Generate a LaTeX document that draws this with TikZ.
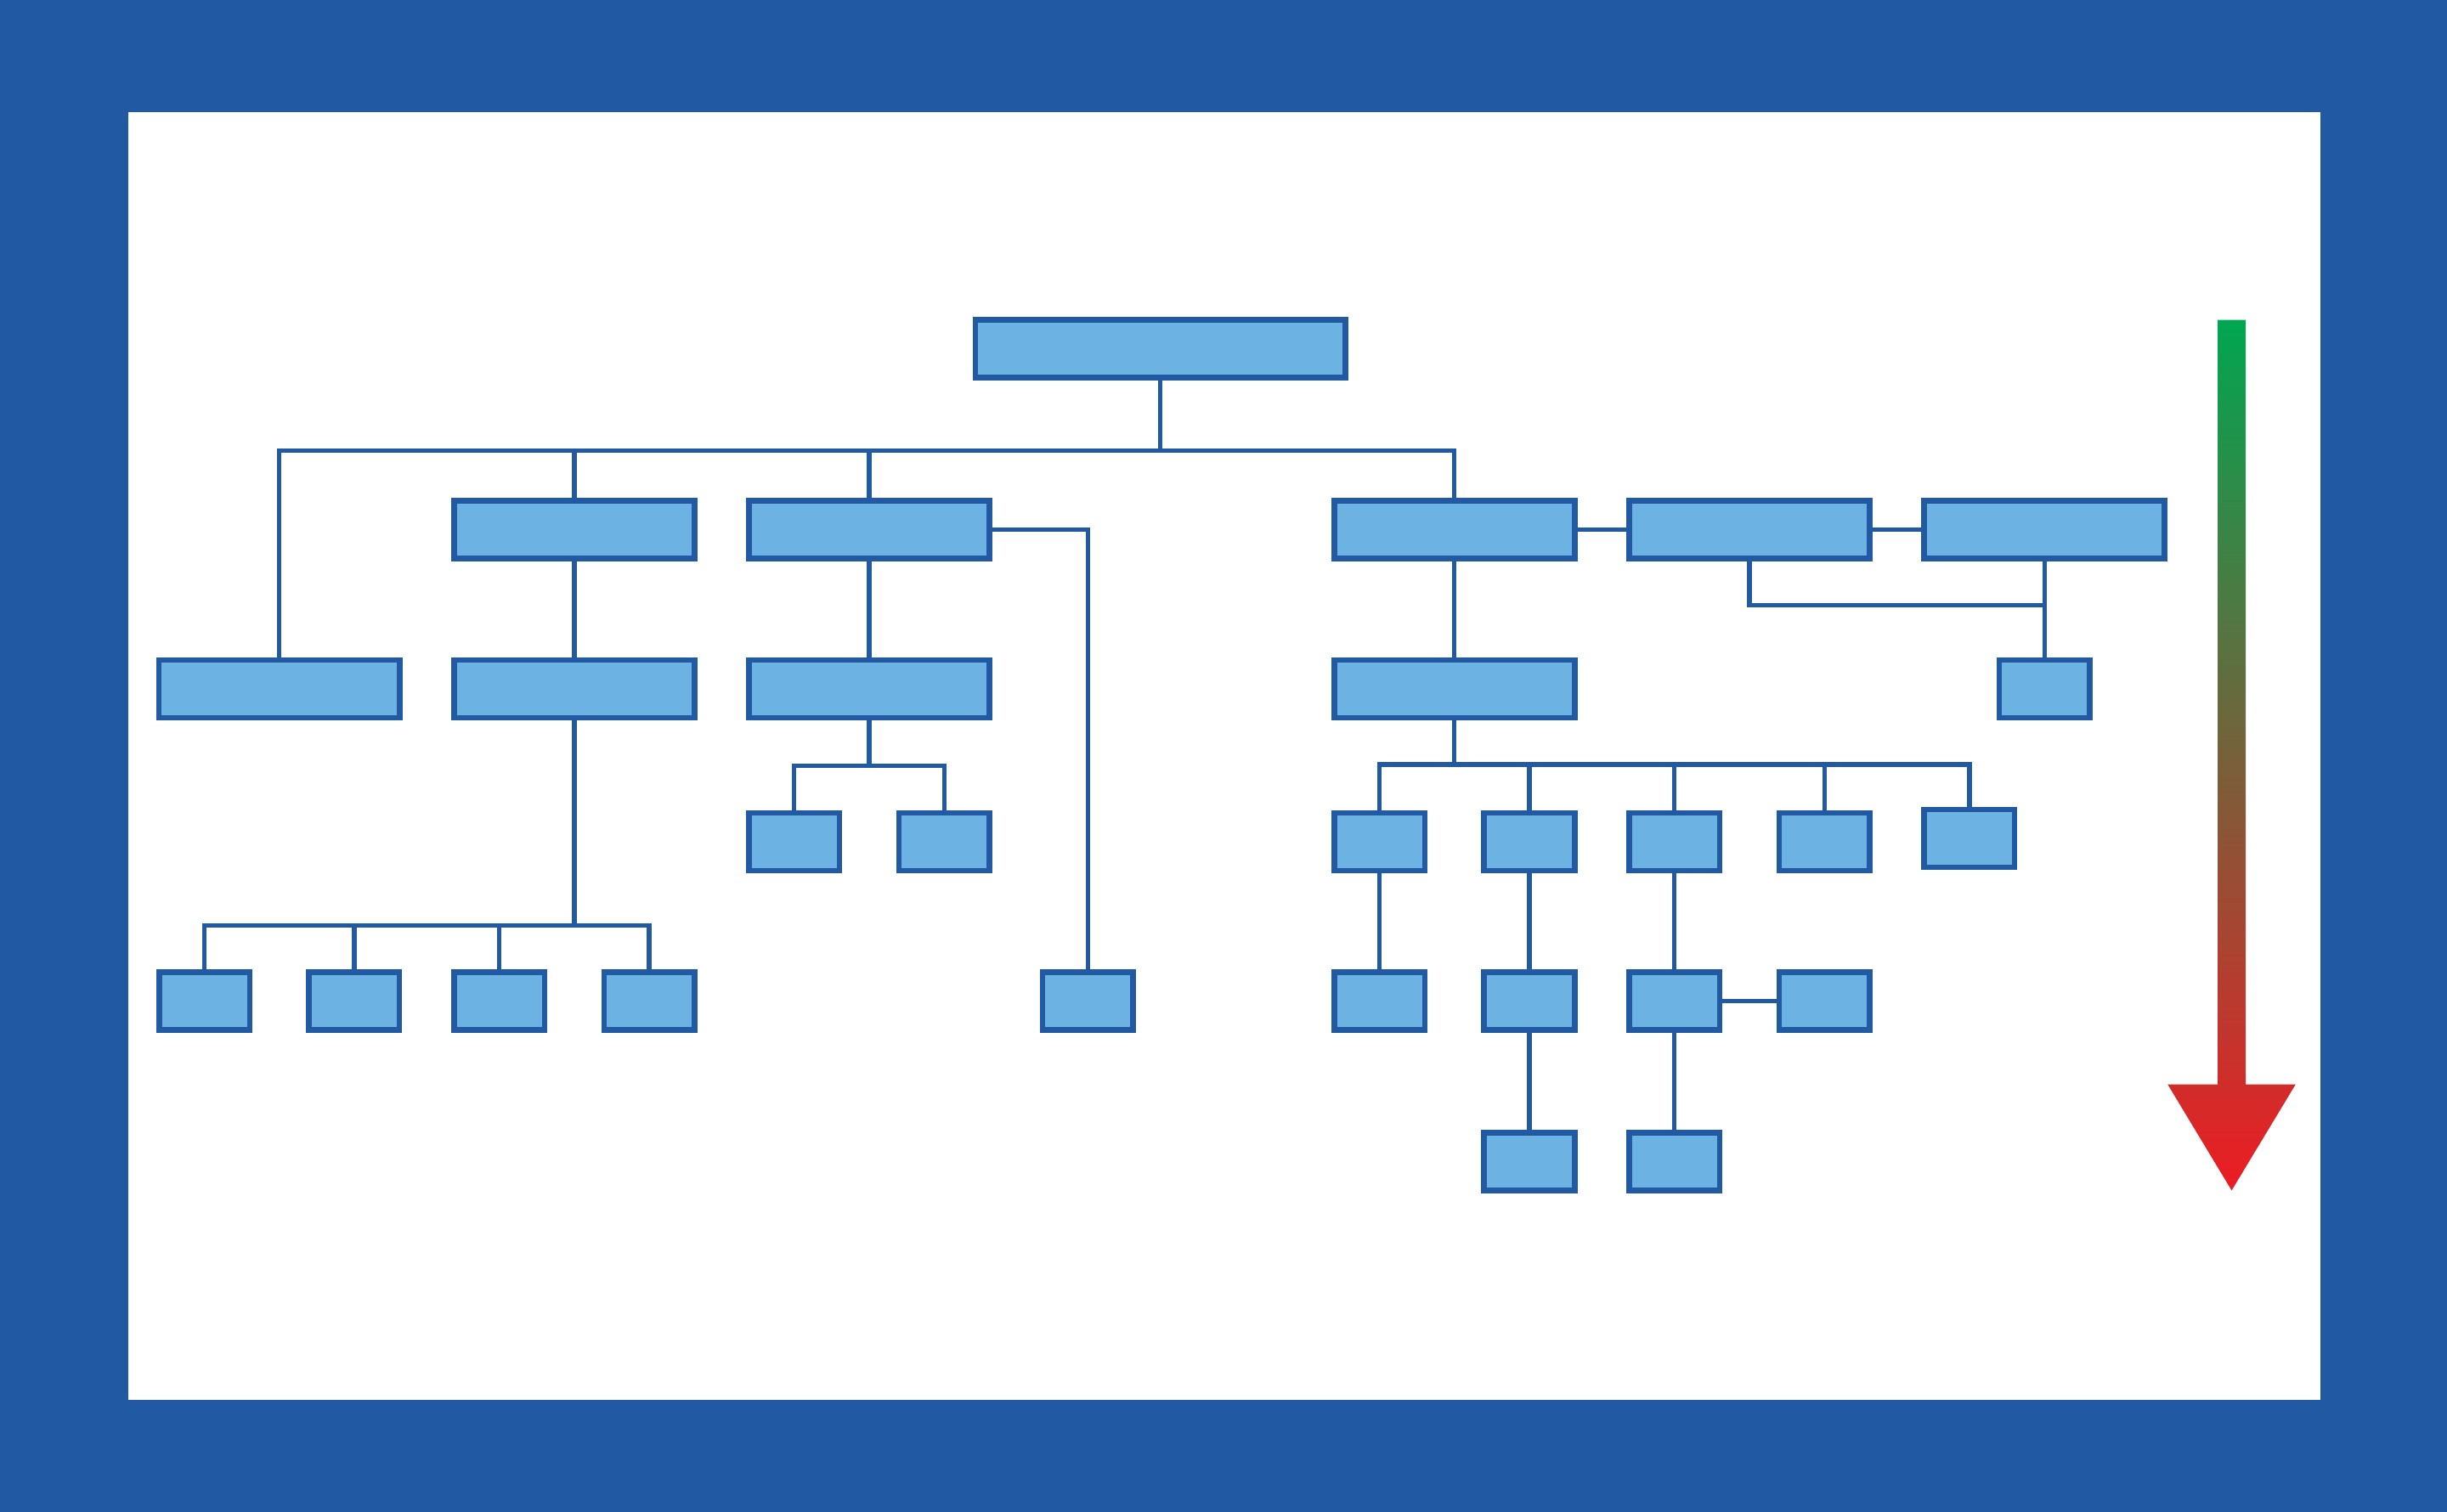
\documentclass[tikz,border=0pt]{standalone}
\usepackage{tikz}
\definecolor{frameblue}{RGB}{33,89,163}
\definecolor{boxblue}{RGB}{108,178,226}
\definecolor{topgreen}{RGB}{0,166,81}
\definecolor{botred}{RGB}{237,28,36}
\begin{document}
\begin{tikzpicture}[x=0.01cm,y=-0.01cm]
 \tikzstyle{wide}=[rectangle, draw=frameblue, fill=boxblue, line width=1pt, inner sep=0pt, minimum width=1.54cm, minimum height=0.37cm]
 \tikzstyle{small}=[wide, minimum width=0.58cm]
 \tikzstyle{link}=[draw=frameblue, line width=0.8pt]
 %
 \fill[frameblue] (0,0) rectangle (1568,969);
 \fill[white] (82,72) rectangle (1487,897);
 %
 \node[wide, minimum width=2.37cm] (R) at (743.5,223.5) {};
 %
 \node[wide] (A) at (368,339.5) {};
 \node[wide] (B) at (557,339.5) {};
 \node[wide] (C) at (932,339.5) {};
 \node[wide] (D) at (1121,339.5) {};
 \node[wide] (E) at (1310,339.5) {};
 %
 \node[wide] (F) at (179,441.5) {};
 \node[wide] (G) at (368,441.5) {};
 \node[wide] (H) at (557,441.5) {};
 \node[wide] (I) at (932,441.5) {};
 \node[small] (J) at (1310,441.5) {};
 %
 \node[small] (H1) at (509,539.5) {};
 \node[small] (H2) at (605,539.5) {};
 \node[small] (I1) at (884,539.5) {};
 \node[small] (I2) at (980,539.5) {};
 \node[small] (I3) at (1073,539.5) {};
 \node[small] (I4) at (1169,539.5) {};
 \node[small] (I5) at (1262,537.5) {};
 %
 \node[small] (G1) at (131,641.5) {};
 \node[small] (G2) at (227,641.5) {};
 \node[small] (G3) at (320,641.5) {};
 \node[small] (G4) at (416,641.5) {};
 \node[small] (B1) at (697,641.5) {};
 \node[small] (K1) at (884,641.5) {};
 \node[small] (K2) at (980,641.5) {};
 \node[small] (K3) at (1073,641.5) {};
 \node[small] (K4) at (1169,641.5) {};
 %
 \node[small] (L2) at (980,744.5) {};
 \node[small] (L3) at (1073,744.5) {};
 %%
 \draw[link] (R.south) -- (743.5,289);
 \draw[link] (F.north) -- (179,289) -- (932,289) -- (C.north);
 \draw[link] (A.north) -- (368,289);
 \draw[link] (B.north) -- (557,289);
 \draw[link] (B.east) -| (B1.north);
 \draw[link] (C) -- (D) -- (E);
 \draw[link] (D.south) |- (1310,388);
 \draw[link] (E.south) -- (J.north);
 \draw[link] (A) -- (G);
 \draw[link] (B) -- (H);
 \draw[link] (C) -- (I);
 %
 \draw[link] (G.south) -- (368,593);
 \draw[link] (G1.north) |- (131,593) -- (416,593) -| (G4.north);
 \draw[link] (G2.north) -- (227,593);
 \draw[link] (G3.north) -- (320,593);
 %
 \draw[link] (H.south) -- (557,491);
 \draw[link] (H1.north) |- (605,491) -| (H2.north);
 \draw[link] (H1.north) |- (557,491);
 %
 \draw[link] (I.south) -- (932,490);
 \draw[link] (I1.north) |- (1262,490) -- (I5.north);
 \draw[link] (I2.north) -- (980,490);
 \draw[link] (I3.north) -- (1073,490);
 \draw[link] (I4.north) -- (1169,490);
 %
 \draw[link] (I1) -- (K1);
 \draw[link] (I2) -- (K2);
 \draw[link] (I3) -- (K3);
 \draw[link] (K3) -- (K4);
 \draw[link] (K2) -- (L2);
 \draw[link] (K3) -- (L3);
 %% arrow
 \shade[top color=topgreen, bottom color=botred, middle color=topgreen!50!botred]
  (1421,205) -- (1439,205) -- (1439,695) -- (1471,695) -- (1430,763)
  -- (1389,695) -- (1421,695) -- cycle;
\end{tikzpicture}
\end{document}
